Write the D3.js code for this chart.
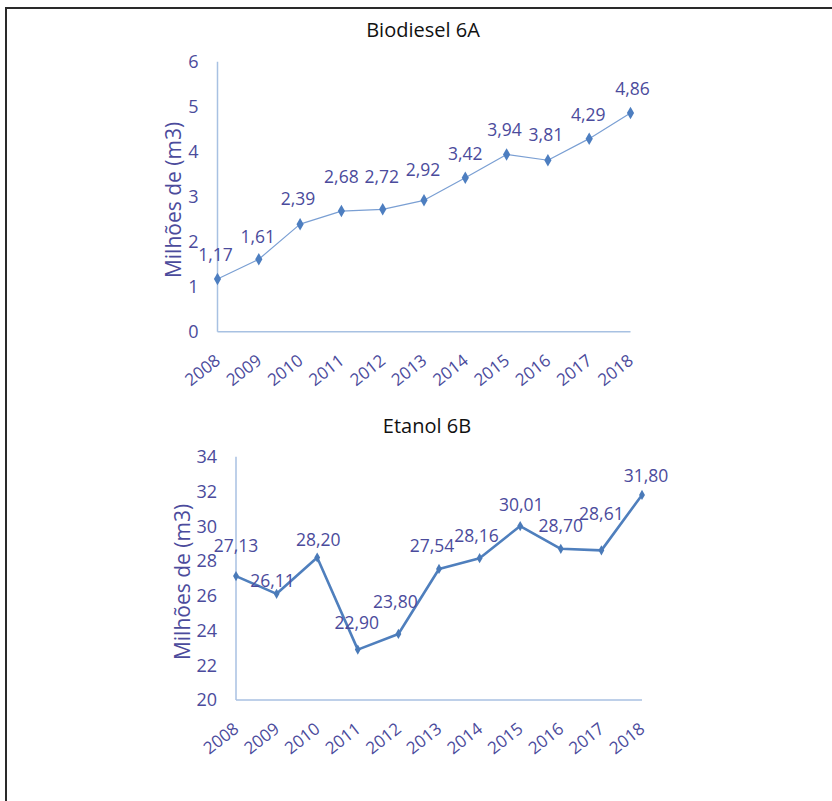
<!DOCTYPE html>
<html>
<head>
<meta charset="utf-8">
<script src="https://cdn.jsdelivr.net/npm/d3@7"></script>
<style>
  html, body { margin: 0; padding: 0; background: #fff; }
  svg { display: block; }
</style>
</head>
<body>
<svg id="fig" width="832" height="801"></svg>
<script>
// Years shared by both panels
const years = ["2008","2009","2010","2011","2012","2013","2014","2015","2016","2017","2018"];

// Panel 6A: biodiesel, millions of m3
const biodiesel = [1.17, 1.61, 2.39, 2.68, 2.72, 2.92, 3.42, 3.94, 3.81, 4.29, 4.86];
const biodieselLabels = ["1,17","1,61","2,39","2,68","2,72","2,92","3,42","3,94","3,81","4,29","4,86"];
const biodieselTicks = [0, 1, 2, 3, 4, 5, 6];

// Panel 6B: ethanol, millions of m3
const etanol = [27.13, 26.11, 28.20, 22.90, 23.80, 27.54, 28.16, 30.01, 28.70, 28.61, 31.80];
const etanolLabels = ["27,13","26,11","28,20","22,90","23,80","27,54","28,16","30,01","28,70","28,61","31,80"];
const etanolTicks = [20, 22, 24, 26, 28, 30, 32, 34];

// Per-point label placement (lift above the point, sideways nudge), in px
const liftA = [18, 16, 19, 28, 26, 24, 18, 18, 19, 18, 18];
const nudgeA = [-2, -1, -2, 0, -1, -1, 0, -2, -2, -1, 2];
const liftB = [24, 7, 11, 21, 26, 17, 16, 15, 17, 30, 13];
const nudgeB = [0, -4, 1, -1, -3, -7, -3, 1, 0, 0, 4];

const svg = d3.select("#fig");
const ink = "#4b4b9c";
const axisBlue = "#a8c1e2";

// Frame
svg.append("path")
  .attr("d", "M6,801 L6,8 L832,8")
  .attr("fill", "none")
  .attr("stroke", "#2a2a2a")
  .attr("stroke-width", 2);

function panel(cfg) {
  const g = svg.append("g");
  const x = d3.scalePoint().domain(years).range([cfg.left, cfg.right]);
  const y = d3.scaleLinear().domain(cfg.domain).range([cfg.bottom, cfg.top]);

  // Title
  g.append("text")
    .attr("x", cfg.titleX).attr("y", cfg.titleY)
    .attr("text-anchor", "middle")
    .attr("font-family", "'Open Sans', sans-serif")
    .attr("font-size", 20)
    .attr("fill", "#111")
    .text(cfg.title);

  // Axis lines
  g.append("line")
    .attr("x1", cfg.left).attr("x2", cfg.left)
    .attr("y1", y(cfg.domain[0])).attr("y2", y(cfg.domain[1]))
    .attr("stroke", axisBlue).attr("stroke-width", 1.5);
  g.append("line")
    .attr("x1", cfg.left).attr("x2", cfg.right)
    .attr("y1", y(cfg.domain[0])).attr("y2", y(cfg.domain[0]))
    .attr("stroke", axisBlue).attr("stroke-width", 1.5);

  // Y tick labels
  g.selectAll(".yt").data(cfg.ticks).join("text")
    .attr("x", cfg.left - 19)
    .attr("y", d => y(d))
    .attr("dy", "0.36em")
    .attr("text-anchor", "end")
    .attr("font-family", "'Open Sans', sans-serif")
    .attr("font-size", 18)
    .attr("fill", ink)
    .text(d => d);

  // X tick labels, slanted
  g.selectAll(".xt").data(years).join("text")
    .attr("transform", d => `translate(${x(d) + 4},${y(cfg.domain[0]) + 31}) rotate(-38)`)
    .attr("text-anchor", "end")
    .attr("font-family", "'Open Sans', sans-serif")
    .attr("font-size", 17)
    .attr("fill", ink)
    .text(d => d);

  // Y axis title
  g.append("text")
    .attr("transform", `translate(${cfg.yTitleX},${cfg.yTitleY}) rotate(-90)`)
    .attr("text-anchor", "middle")
    .attr("font-family", "'Open Sans', sans-serif")
    .attr("font-size", 21)
    .attr("fill", ink)
    .text("Milhões de (m3)");

  // Series line
  const line = d3.line().x((d, i) => x(years[i])).y(d => y(d));
  g.append("path")
    .datum(cfg.values)
    .attr("d", line)
    .attr("fill", "none")
    .attr("stroke", cfg.lineColor)
    .attr("stroke-width", cfg.lineWidth)
    .attr("stroke-linejoin", "round");

  // Markers
  const sym = d3.symbol().type(d3.symbolDiamond).size(cfg.markerSize);
  g.selectAll(".mk").data(cfg.values).join("path")
    .attr("d", sym)
    .attr("transform", (d, i) => `translate(${x(years[i])},${y(d)})`)
    .attr("fill", cfg.markerColor);

  // Value labels
  g.selectAll(".vl").data(cfg.values).join("text")
    .attr("x", (d, i) => x(years[i]) + cfg.nudge[i])
    .attr("y", (d, i) => y(d) - cfg.lift[i])
    .attr("text-anchor", "middle")
    .attr("font-family", "'Open Sans', sans-serif")
    .attr("font-size", 17.5)
    .attr("fill", ink)
    .text((d, i) => cfg.labels[i]);
}

panel({
  title: "Biodiesel 6A", titleX: 423, titleY: 37,
  left: 217.5, right: 630.5, top: 61.7, bottom: 331.7,
  domain: [0, 6], ticks: biodieselTicks,
  values: biodiesel, labels: biodieselLabels,
  lift: liftA, nudge: nudgeA,
  yTitleX: 181, yTitleY: 200,
  lineColor: "#7a9fd3", lineWidth: 1.2,
  markerColor: "#4d7ec0", markerSize: 45
});

panel({
  title: "Etanol 6B", titleX: 427, titleY: 433,
  left: 236, right: 642, top: 456.7, bottom: 700,
  domain: [20, 34], ticks: etanolTicks,
  values: etanol, labels: etanolLabels,
  lift: liftB, nudge: nudgeB,
  yTitleX: 190, yTitleY: 582,
  lineColor: "#4f7fbd", lineWidth: 2.6,
  markerColor: "#4a7ab8", markerSize: 30
});
</script>
</body>
</html>
